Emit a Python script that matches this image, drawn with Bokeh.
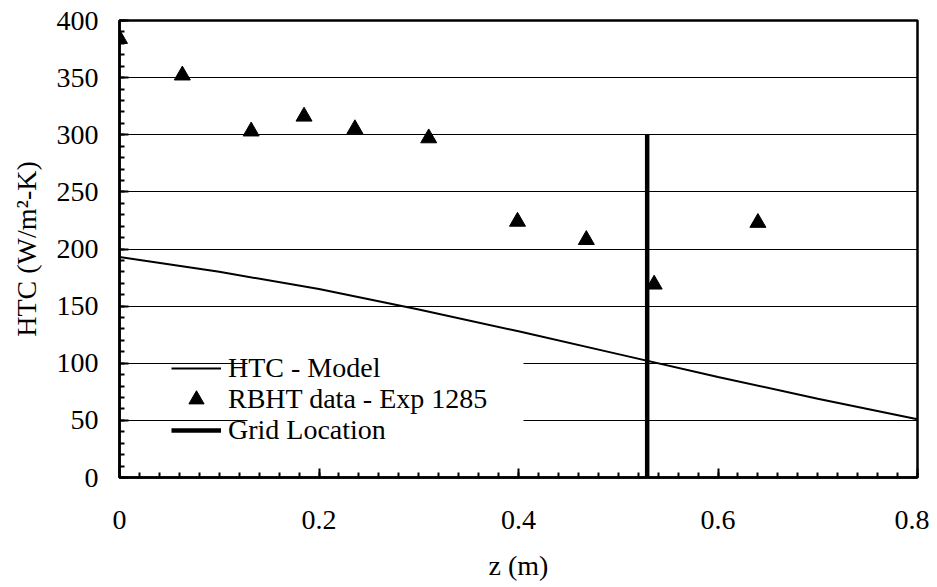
from bokeh.plotting import figure
from bokeh.models import (Range1d, SingleIntervalTicker, NumeralTickFormatter,
                          Legend, LegendItem, BoxAnnotation)
from bokeh.embed import file_html
from bokeh.resources import INLINE

# Model curve
z_model = [0.0, 0.1, 0.2, 0.3, 0.4, 0.5, 0.6, 0.7, 0.8, 0.806]
htc_model = [193, 180, 165, 147, 128, 108, 88, 69, 51, 50]

# RBHT data - Exp 1285
z_exp = [0.0, 0.063, 0.132, 0.185, 0.236, 0.310, 0.399, 0.468, 0.536, 0.640]
htc_exp = [384, 352, 303, 316, 305, 297, 224, 208, 169, 223]

# Grid location
z_grid = [0.529, 0.529]
htc_grid = [0, 300]

x_ticks_interval = 0.2
y_ticks_interval = 50

legend_labels = ["HTC - Model", "RBHT data - Exp 1285", "Grid Location"]

FONT = "Liberation Serif"
FS = "28px"

p = figure(frame_width=798, frame_height=457, output_backend="svg",
           toolbar_location=None, x_range=Range1d(0, 0.8), y_range=Range1d(0, 400),
           min_border_left=119, min_border_right=12, min_border_top=20,
           min_border_bottom=102)
p.background_fill_color = "white"
p.border_fill_color = "white"
p.outline_line_color = "black"
p.outline_line_width = 2.5

p.xaxis.ticker = SingleIntervalTicker(interval=x_ticks_interval, num_minor_ticks=10)
p.yaxis.ticker = SingleIntervalTicker(interval=y_ticks_interval, num_minor_ticks=5)
p.xaxis.formatter = NumeralTickFormatter(format="0.[0]")

for ax in (p.xaxis[0], p.yaxis[0]):
    ax.axis_line_color = "black"
    ax.axis_line_width = 2.5
    ax.major_tick_in = 9
    ax.major_tick_out = 0
    ax.minor_tick_in = 5
    ax.minor_tick_out = 0
    ax.major_tick_line_width = 2
    ax.minor_tick_line_width = 2
    ax.major_tick_line_color = "black"
    ax.minor_tick_line_color = "black"
    ax.major_label_text_font = FONT
    ax.major_label_text_font_size = FS
    ax.major_label_text_font_style = "normal"
    ax.major_label_text_color = "black"
    ax.axis_label_text_font = FONT
    ax.axis_label_text_font_size = FS
    ax.axis_label_text_font_style = "normal"
    ax.axis_label_text_color = "black"

p.xaxis.axis_label = "z (m)"
p.yaxis.axis_label = "HTC (W/m²-K)"
p.xaxis.major_label_standoff = 33
p.yaxis.major_label_standoff = 21
p.xaxis.axis_label_standoff = 18
p.yaxis.axis_label_standoff = 12

p.xgrid.grid_line_color = None
p.ygrid.grid_line_color = "black"
p.ygrid.grid_line_width = 1

# white area behind legend that hides grid lines
p.add_layout(BoxAnnotation(left=128, right=404, top=122, bottom=30,
                           left_units="screen", right_units="screen",
                           top_units="screen", bottom_units="screen",
                           fill_color="white", fill_alpha=1, line_color=None,
                           level="glyph"))

r_model = p.line(z_model, htc_model, line_color="black", line_width=2)
r_exp = p.scatter(z_exp, htc_exp, marker="triangle", size=16,
                  fill_color="black", line_color="black")
r_grid = p.line(z_grid, htc_grid, line_color="black", line_width=4.5)

for label, rend, ypos in zip(legend_labels, [r_model, r_exp, r_grid], [90, 59, 28]):
    lg = Legend(items=[LegendItem(label=label, renderers=[rend])],
                location=(52, ypos))
    lg.background_fill_alpha = 0
    lg.border_line_color = None
    lg.padding = 0
    lg.spacing = 0
    lg.margin = 0
    lg.glyph_width = 50
    lg.glyph_height = 38
    lg.label_standoff = 7
    lg.label_text_font = FONT
    lg.label_text_font_size = FS
    lg.label_text_font_style = "normal"
    lg.label_text_color = "black"
    p.add_layout(lg, "center")

open("out.html", "w").write(file_html(p, INLINE))
